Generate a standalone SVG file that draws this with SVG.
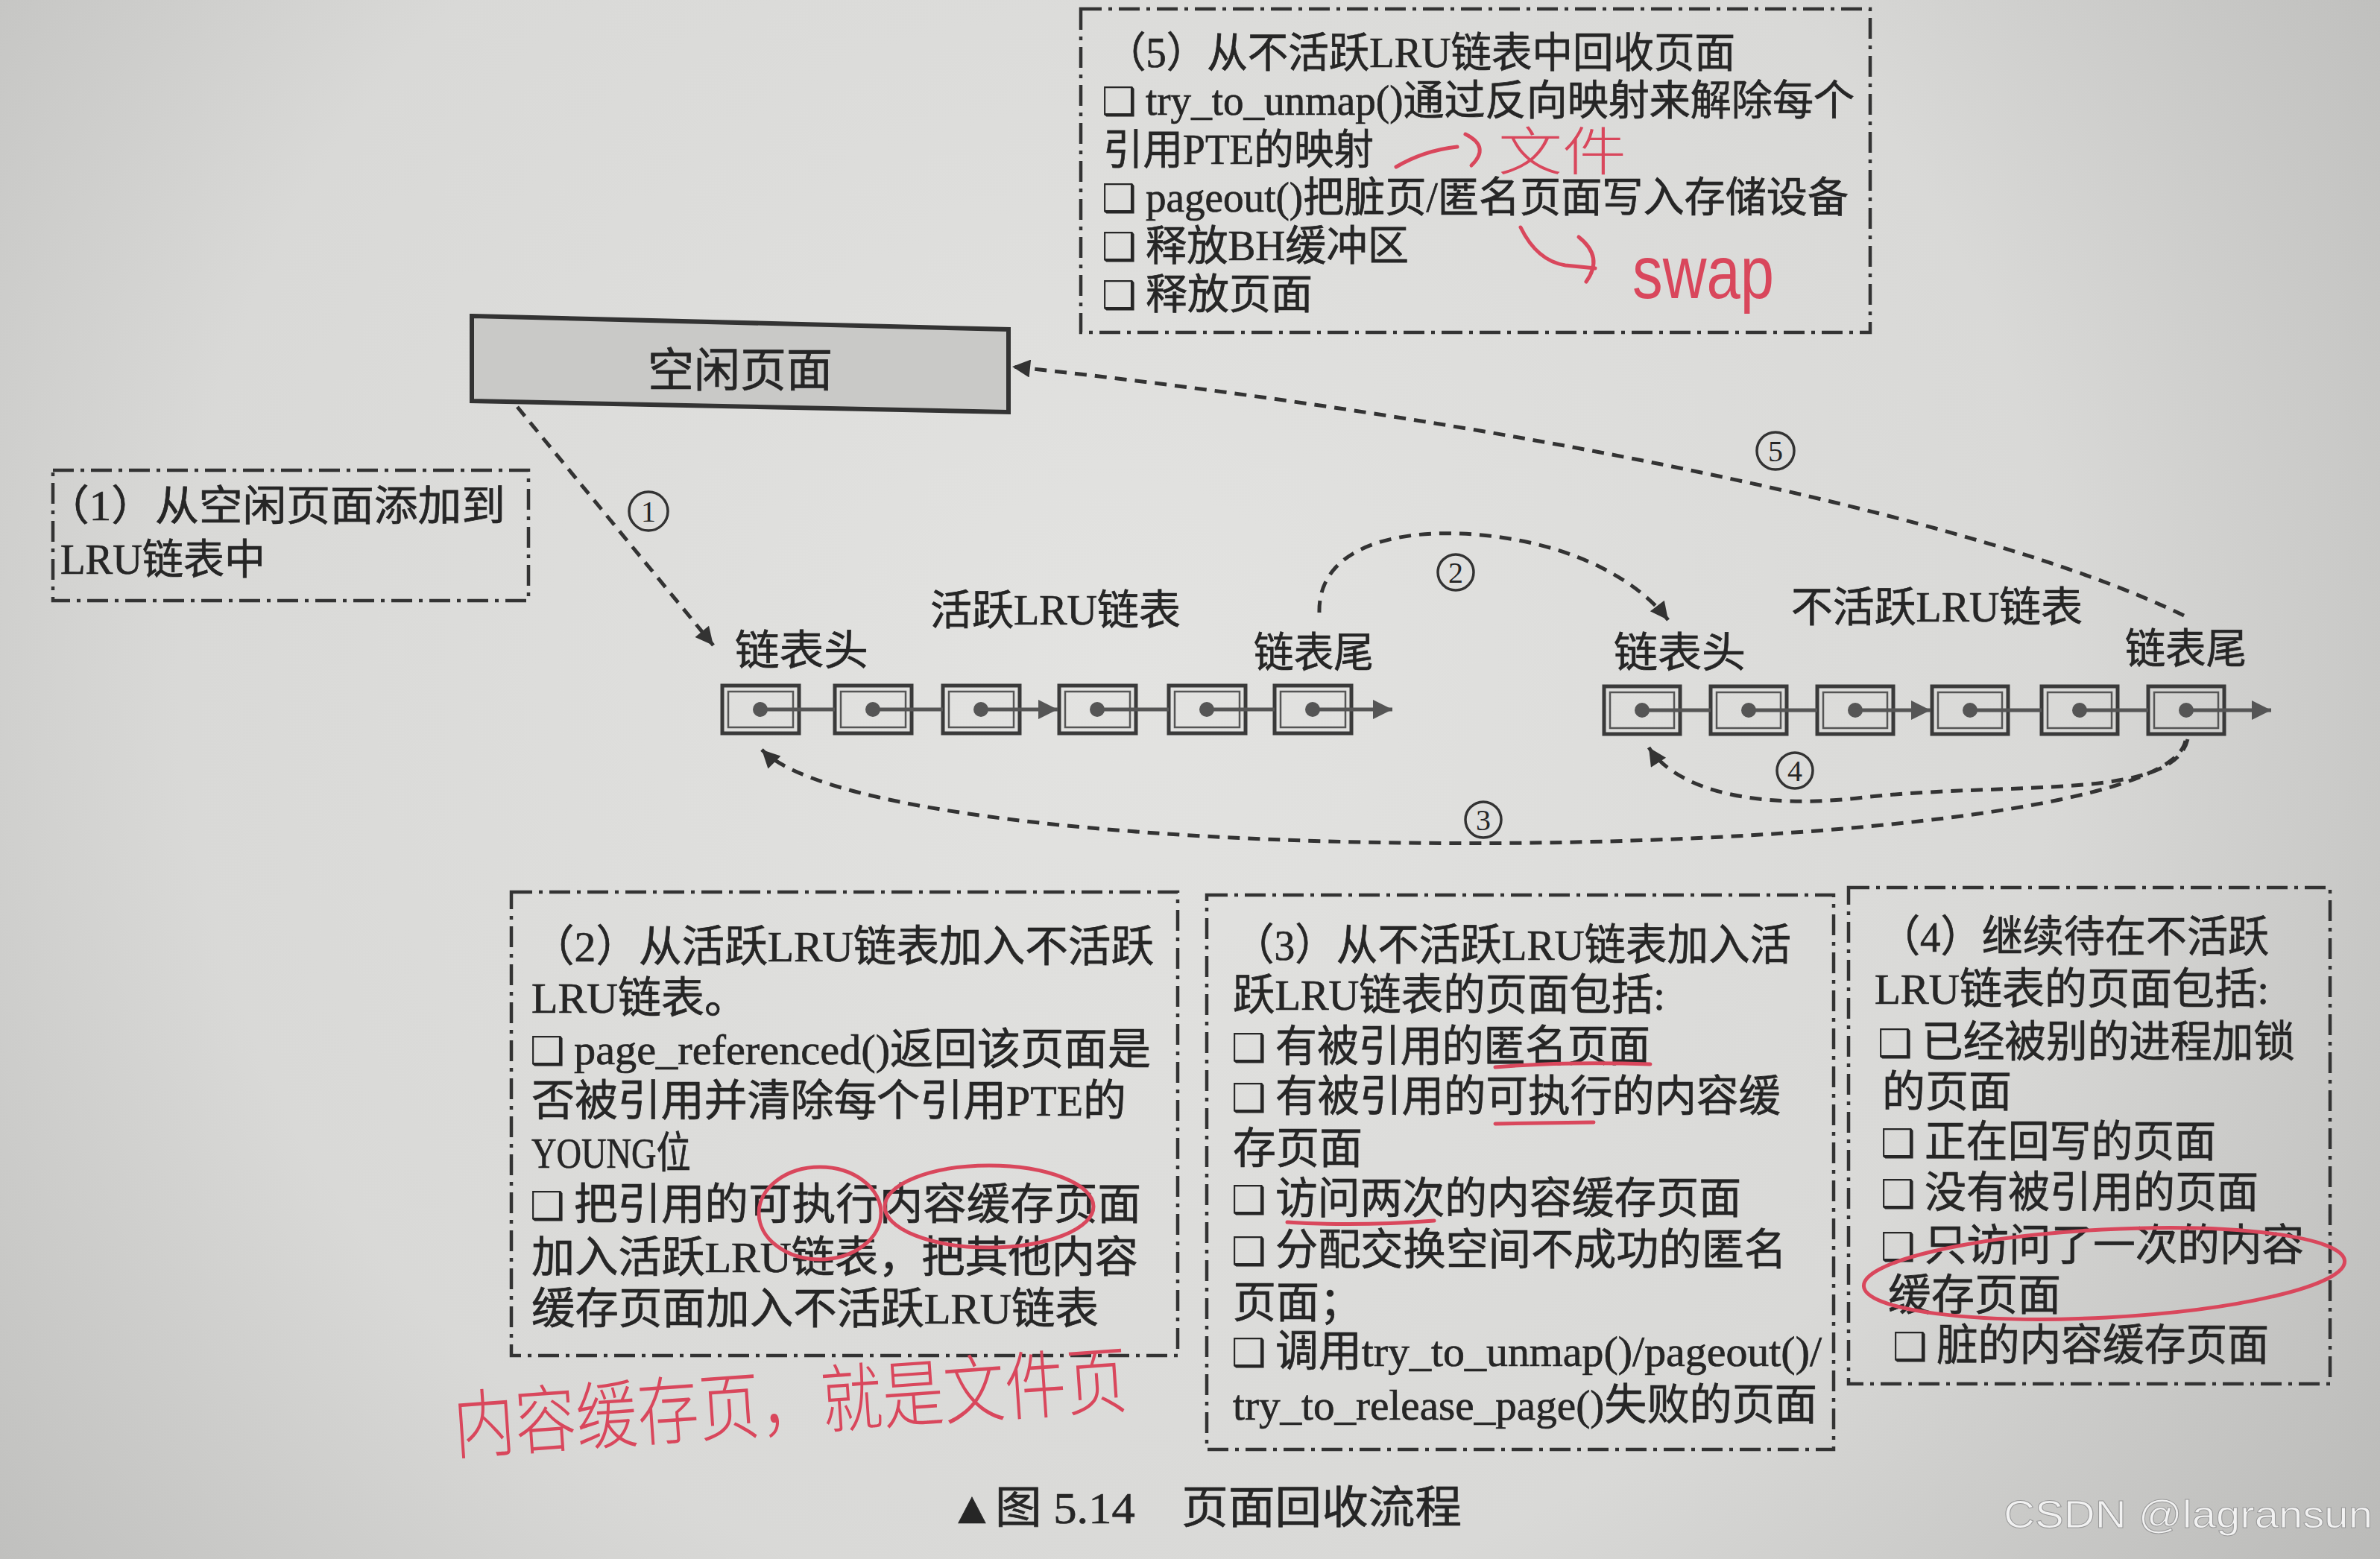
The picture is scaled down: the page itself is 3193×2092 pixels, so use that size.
<svg xmlns="http://www.w3.org/2000/svg" width="3193" height="2092" viewBox="0 0 3193 2092">
<defs>
<radialGradient id="bg" cx="1500" cy="900" r="2100" gradientUnits="userSpaceOnUse">
<stop offset="0" stop-color="#e3e3e1"/><stop offset="0.6" stop-color="#d9d9d7"/><stop offset="1" stop-color="#b9b9b7"/>
</radialGradient>
<marker id="ah" viewBox="0 0 10 10" refX="10" refY="5" markerUnits="userSpaceOnUse" markerWidth="40" markerHeight="24" orient="auto"><path d="M0,0 L10,5 L0,10 z" fill="#333"/></marker>
<marker id="ahs" viewBox="0 0 10 10" refX="10" refY="5" markerUnits="userSpaceOnUse" markerWidth="30" markerHeight="26" orient="auto"><path d="M0,0 L10,5 L0,10 z" fill="#555"/></marker>
</defs>
<style>
.t{font-family:'Liberation Serif','Noto Sans CJK SC',serif;font-size:56px;fill:#262626;stroke:#262626;stroke-width:0.7}
.t2{font-family:'Liberation Serif','Noto Sans CJK SC',serif;font-size:58px;fill:#262626;stroke:#262626;stroke-width:0.7}
.lb{font-family:'Liberation Serif','Noto Sans CJK SC',serif;font-size:56px;fill:#262626;stroke:#262626;stroke-width:0.7}
.bx{font-family:'DejaVu Sans',sans-serif;font-size:52px;fill:#262626}
.db{fill:none;stroke:#333;stroke-width:4.5;stroke-dasharray:28 9 5 9}
.nd{fill:none;stroke:#3a3a3a;stroke-width:5}
.ndi{fill:none;stroke:#555;stroke-width:2.5}
.dot{fill:#555}
.lk{stroke:#555;stroke-width:5;fill:none}
.cn{fill:none;stroke:#333;stroke-width:5;stroke-dasharray:16 11}
.cc{fill:none;stroke:#333;stroke-width:3.5}
.cd{font-family:'Liberation Serif',serif;font-size:40px;fill:#262626;text-anchor:middle}
.red{fill:none;stroke:#d9475c;stroke-width:5;stroke-linecap:round}
.rt{font-family:'Noto Sans CJK SC',sans-serif;font-weight:300;fill:#d9475c}
</style>
<rect width="3193" height="2092" fill="url(#bg)"/>

<g id="box5">
<rect class="db" x="1450" y="12" width="1059" height="434"/>
<text class="t" x="1483" y="90" textLength="845" lengthAdjust="spacingAndGlyphs">（5）从不活跃LRU链表中回收页面</text>
<text class="bx" x="1478" y="154">❑</text>
<text class="t" x="1537" y="154" textLength="951" lengthAdjust="spacingAndGlyphs">try_to_unmap()通过反向映射来解除每个</text>
<text class="t" x="1480" y="220" textLength="363" lengthAdjust="spacingAndGlyphs">引用PTE的映射</text>
<text class="bx" x="1478" y="284">❑</text>
<text class="t" x="1537" y="284" textLength="943" lengthAdjust="spacingAndGlyphs">pageout()把脏页/匿名页面写入存储设备</text>
<text class="bx" x="1478" y="349">❑</text>
<text class="t" x="1537" y="349" textLength="353" lengthAdjust="spacingAndGlyphs">释放BH缓冲区</text>
<text class="bx" x="1478" y="414">❑</text>
<text class="t" x="1537" y="414">释放页面</text>
</g>

<g id="free-pages">
<polygon points="633,424 1353,442 1353,553 633,538" fill="#c9c9c7" stroke="#333" stroke-width="6"/>
<text class="t" x="993" y="519" text-anchor="middle" style="font-size:62px">空闲页面</text>
</g>

<g id="box1">
<rect class="db" x="71" y="631" width="638" height="175"/>
<text class="t" x="61" y="698" textLength="617" lengthAdjust="spacingAndGlyphs">（1）从空闲页面添加到</text>
<text class="t" x="81" y="770" textLength="275" lengthAdjust="spacingAndGlyphs">LRU链表中</text>
</g>

<g id="active-list">
<text class="lb" x="1248" y="838" textLength="336" lengthAdjust="spacingAndGlyphs">活跃LRU链表</text>
<text class="lb" x="986" y="892" textLength="179" lengthAdjust="spacingAndGlyphs">链表头</text>
<text class="lb" x="1682" y="895" textLength="161" lengthAdjust="spacingAndGlyphs">链表尾</text>
<g id="a1"><rect class="nd" x="969" y="920" width="103" height="64"/><rect class="ndi" x="977" y="928" width="87" height="48"/><circle class="dot" cx="1020" cy="952" r="10"/></g>
<g id="a2"><rect class="nd" x="1120" y="920" width="103" height="64"/><rect class="ndi" x="1128" y="928" width="87" height="48"/><circle class="dot" cx="1171" cy="952" r="10"/></g>
<g id="a3"><rect class="nd" x="1265" y="920" width="103" height="64"/><rect class="ndi" x="1273" y="928" width="87" height="48"/><circle class="dot" cx="1316" cy="952" r="10"/></g>
<g id="a4"><rect class="nd" x="1421" y="920" width="103" height="64"/><rect class="ndi" x="1429" y="928" width="87" height="48"/><circle class="dot" cx="1472" cy="952" r="10"/></g>
<g id="a5"><rect class="nd" x="1568" y="920" width="103" height="64"/><rect class="ndi" x="1576" y="928" width="87" height="48"/><circle class="dot" cx="1619" cy="952" r="10"/></g>
<g id="a6"><rect class="nd" x="1710" y="920" width="103" height="64"/><rect class="ndi" x="1718" y="928" width="87" height="48"/><circle class="dot" cx="1761" cy="952" r="10"/></g>
</g>

<g id="inactive-list">
<text class="lb" x="2403" y="834" textLength="391" lengthAdjust="spacingAndGlyphs">不活跃LRU链表</text>
<text class="lb" x="2165" y="895" textLength="177" lengthAdjust="spacingAndGlyphs">链表头</text>
<text class="lb" x="2851" y="890" textLength="163" lengthAdjust="spacingAndGlyphs">链表尾</text>
<g id="i1"><rect class="nd" x="2152" y="921" width="102" height="64"/><rect class="ndi" x="2160" y="929" width="86" height="48"/><circle class="dot" cx="2203" cy="953" r="10"/></g>
<g id="i2"><rect class="nd" x="2295" y="921" width="102" height="64"/><rect class="ndi" x="2303" y="929" width="86" height="48"/><circle class="dot" cx="2346" cy="953" r="10"/></g>
<g id="i3"><rect class="nd" x="2438" y="921" width="102" height="64"/><rect class="ndi" x="2446" y="929" width="86" height="48"/><circle class="dot" cx="2489" cy="953" r="10"/></g>
<g id="i4"><rect class="nd" x="2592" y="921" width="102" height="64"/><rect class="ndi" x="2600" y="929" width="86" height="48"/><circle class="dot" cx="2643" cy="953" r="10"/></g>
<g id="i5"><rect class="nd" x="2739" y="921" width="102" height="64"/><rect class="ndi" x="2747" y="929" width="86" height="48"/><circle class="dot" cx="2790" cy="953" r="10"/></g>
<g id="i6"><rect class="nd" x="2882" y="921" width="102" height="64"/><rect class="ndi" x="2890" y="929" width="86" height="48"/><circle class="dot" cx="2933" cy="953" r="10"/></g>
</g>

<g id="box2">
<rect class="db" x="686" y="1197" width="894" height="622"/>
<text class="t2" x="713" y="1290" textLength="835" lengthAdjust="spacingAndGlyphs">（2）从活跃LRU链表加入不活跃</text>
<text class="t2" x="713" y="1359">LRU链表。</text>
<text class="bx" x="711" y="1428">❑</text>
<text class="t2" x="770" y="1428" textLength="774" lengthAdjust="spacingAndGlyphs">page_referenced()返回该页面是</text>
<text class="t2" x="713" y="1497" textLength="798" lengthAdjust="spacingAndGlyphs">否被引用并清除每个引用PTE的</text>
<text class="t2" x="713" y="1567" textLength="214" lengthAdjust="spacingAndGlyphs">YOUNG位</text>
<text class="bx" x="711" y="1636">❑</text>
<text class="t2" x="770" y="1636" textLength="761" lengthAdjust="spacingAndGlyphs">把引用的可执行内容缓存页面</text>
<text class="t2" x="713" y="1707" textLength="814" lengthAdjust="spacingAndGlyphs">加入活跃LRU链表，把其他内容</text>
<text class="t2" x="713" y="1776" textLength="761" lengthAdjust="spacingAndGlyphs">缓存页面加入不活跃LRU链表</text>
</g>

<g id="box3">
<rect class="db" x="1619" y="1201" width="841" height="744"/>
<text class="t2" x="1654" y="1288" textLength="749" lengthAdjust="spacingAndGlyphs">（3）从不活跃LRU链表加入活</text>
<text class="t2" x="1654" y="1355" textLength="580" lengthAdjust="spacingAndGlyphs">跃LRU链表的页面包括:</text>
<text class="bx" x="1652" y="1424">❑</text>
<text class="t2" x="1711" y="1424" textLength="503" lengthAdjust="spacingAndGlyphs">有被引用的匿名页面</text>
<text class="bx" x="1652" y="1491">❑</text>
<text class="t2" x="1711" y="1491" textLength="678" lengthAdjust="spacingAndGlyphs">有被引用的可执行的内容缓</text>
<text class="t2" x="1654" y="1561">存页面</text>
<text class="bx" x="1652" y="1628">❑</text>
<text class="t2" x="1711" y="1628" textLength="625" lengthAdjust="spacingAndGlyphs">访问两次的内容缓存页面</text>
<text class="bx" x="1652" y="1697">❑</text>
<text class="t2" x="1711" y="1697" textLength="686" lengthAdjust="spacingAndGlyphs">分配交换空间不成功的匿名</text>
<text class="t2" x="1654" y="1768">页面；</text>
<text class="bx" x="1652" y="1833">❑</text>
<text class="t2" x="1711" y="1833" textLength="733" lengthAdjust="spacingAndGlyphs">调用try_to_unmap()/pageout()/</text>
<text class="t2" x="1654" y="1905" textLength="784" lengthAdjust="spacingAndGlyphs">try_to_release_page()失败的页面</text>
</g>

<g id="box4">
<rect class="db" x="2480" y="1191" width="646" height="666"/>
<text class="t2" x="2521" y="1277" textLength="523" lengthAdjust="spacingAndGlyphs">（4）继续待在不活跃</text>
<text class="t2" x="2515" y="1347" textLength="529" lengthAdjust="spacingAndGlyphs">LRU链表的页面包括:</text>
<text class="bx" x="2519" y="1418">❑</text>
<text class="t2" x="2578" y="1418" textLength="501" lengthAdjust="spacingAndGlyphs">已经被别的进程加锁</text>
<text class="t2" x="2525" y="1485">的页面</text>
<text class="bx" x="2523" y="1552">❑</text>
<text class="t2" x="2582" y="1552" textLength="391" lengthAdjust="spacingAndGlyphs">正在回写的页面</text>
<text class="bx" x="2523" y="1620">❑</text>
<text class="t2" x="2582" y="1620" textLength="448" lengthAdjust="spacingAndGlyphs">没有被引用的页面</text>
<text class="bx" x="2523" y="1691">❑</text>
<text class="t2" x="2582" y="1691" textLength="509" lengthAdjust="spacingAndGlyphs">只访问了一次的内容</text>
<text class="t2" x="2533" y="1758">缓存页面</text>
<text class="bx" x="2539" y="1825">❑</text>
<text class="t2" x="2598" y="1825" textLength="446" lengthAdjust="spacingAndGlyphs">脏的内容缓存页面</text>
</g>

<g id="connectors">
<line class="lk" x1="1020" y1="952" x2="1120" y2="952"/>
<line class="lk" x1="1171" y1="952" x2="1265" y2="952"/>
<line class="lk" x1="1316" y1="952" x2="1419" y2="952" marker-end="url(#ahs)"/>
<line class="lk" x1="1472" y1="952" x2="1568" y2="952"/>
<line class="lk" x1="1619" y1="952" x2="1710" y2="952"/>
<line class="lk" x1="1761" y1="952" x2="1868" y2="952" marker-end="url(#ahs)"/>
<line class="lk" x1="2203" y1="953" x2="2295" y2="953"/>
<line class="lk" x1="2346" y1="953" x2="2438" y2="953"/>
<line class="lk" x1="2489" y1="953" x2="2590" y2="953" marker-end="url(#ahs)"/>
<line class="lk" x1="2643" y1="953" x2="2739" y2="953"/>
<line class="lk" x1="2790" y1="953" x2="2882" y2="953"/>
<line class="lk" x1="2933" y1="953" x2="3047" y2="953" marker-end="url(#ahs)"/>

<path id="c1" class="cn" d="M 694 546 L 957 866" marker-end="url(#ah)"/>
<path id="c2" class="cn" d="M 1770 822 C 1768 740, 1860 712, 1960 716 C 2090 722, 2190 770, 2238 832" marker-end="url(#ah)"/>
<path id="c3" class="cn" d="M 2932 994 C 2900 1165, 1200 1185, 1022 1006" marker-end="url(#ah)"/>
<path id="c4" class="cn" d="M 2935 992 C 2915 1075, 2700 1048, 2500 1070 C 2360 1087, 2250 1062, 2212 1003" marker-end="url(#ah)"/>
<path id="c5" class="cn" d="M 2930 826 C 2650 690, 2000 560, 1358 492" marker-end="url(#ah)"/>

<circle class="cc" cx="870" cy="686" r="26"/><text class="cd" x="870" y="700">1</text>
<circle class="cc" cx="1953" cy="768" r="24"/><text class="cd" x="1953" y="782">2</text>
<circle class="cc" cx="1990" cy="1100" r="24"/><text class="cd" x="1990" y="1114">3</text>
<circle class="cc" cx="2408" cy="1034" r="24"/><text class="cd" x="2408" y="1048">4</text>
<circle class="cc" cx="2382" cy="605" r="25"/><text class="cd" x="2382" y="619">5</text>
</g>

<g id="caption">
<text class="t" x="1273" y="2044" textLength="688" lengthAdjust="spacingAndGlyphs" style="font-size:60px">▲图 5.14　页面回收流程</text>
</g>

<g id="annotations">
<path class="red" d="M 1873 224 Q 1910 202 1955 197"/>
<path class="red" d="M 1966 180 Q 2000 197 1974 222"/>
<text class="rt" x="2010" y="229" font-size="70" textLength="172" lengthAdjust="spacingAndGlyphs">文件</text>
<path class="red" d="M 2040 305 Q 2062 350 2100 356 L 2140 360"/>
<path class="red" d="M 2118 318 Q 2152 345 2128 378"/>
<text x="2190" y="400" font-family="'Liberation Sans',sans-serif" font-size="100" fill="#d9475c" textLength="190" lengthAdjust="spacingAndGlyphs">swap</text>
<ellipse class="red" cx="1100" cy="1628" rx="82" ry="62"/>
<ellipse class="red" cx="1327" cy="1619" rx="140" ry="55"/>
<path class="red" d="M 2006 1432 Q 2100 1424 2214 1428"/>
<path class="red" d="M 2006 1508 L 2138 1506"/>
<path class="red" d="M 1727 1640 Q 1820 1646 1924 1638"/>
<ellipse class="red" cx="2823" cy="1709" rx="323" ry="59" transform="rotate(-3 2823 1709)"/>
<text class="rt" x="611" y="1950" font-size="100" textLength="906" lengthAdjust="spacingAndGlyphs" transform="rotate(-4 611 1950)">内容缓存页，就是文件页</text>
</g>

<text x="2688" y="2050" font-family="'Liberation Sans',sans-serif" font-size="52" fill="#f2f2f2" stroke="#9a9a9a" stroke-width="1" textLength="495" lengthAdjust="spacingAndGlyphs">CSDN @lagransun</text>
</svg>
